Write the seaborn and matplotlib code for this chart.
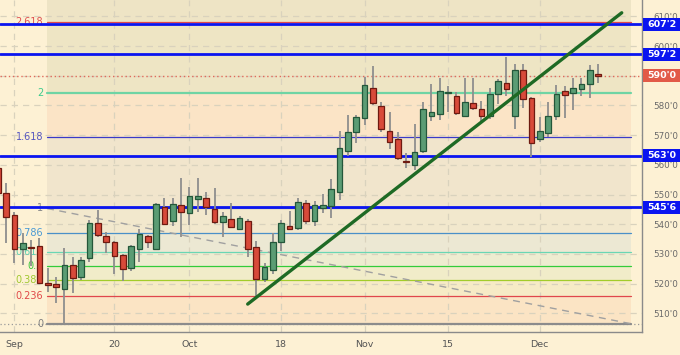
import numpy as np
import pandas as pd
import matplotlib
matplotlib.use('Agg')
import matplotlib.pyplot as plt
from matplotlib.patches import Rectangle
import seaborn as sns

# ---------------- data ----------------
# daily candles, index 0..72 (late Aug .. early Dec)
opens = [558.9, 550.5, 543.1, 531.7, 532.2, 532.7, 520.2, 519.9, 518.2, 526.3,
         522.2, 528.6, 540.4, 536.0, 534.0, 529.6, 525.3, 531.7, 536.0, 531.7,
         545.8, 541.1, 546.5, 543.8, 548.5, 548.8, 545.1, 540.7, 541.8, 538.4,
         541.1, 532.3, 521.5, 524.6, 534.0, 539.4, 538.7, 547.1, 541.1, 545.5,
         546.1, 550.8, 564.6, 571.1, 575.8, 585.9, 579.8, 571.4, 568.7, 561.0,
         559.9, 564.6, 576.4, 577.1, 584.2, 583.2, 576.4, 580.8, 578.8, 576.4,
         583.8, 587.5, 576.4, 591.9, 582.5, 568.7, 570.7, 576.4, 584.8, 584.2,
         585.5, 587.2, 590.6]
highs = [559.9, 553.9, 544.1, 537.0, 534.7, 535.4, 525.3, 522.2, 532.0, 529.0,
         529.0, 541.4, 544.8, 537.4, 534.3, 529.8, 533.0, 538.4, 536.2, 547.1,
         548.8, 548.8, 555.6, 552.5, 555.6, 550.8, 552.2, 544.1, 547.1, 542.8,
         541.8, 534.3, 526.9, 537.0, 541.4, 544.4, 548.8, 548.1, 547.8, 550.2,
         555.2, 571.4, 576.8, 576.8, 589.6, 593.3, 581.1, 577.8, 571.1, 564.0,
         573.7, 581.1, 587.2, 589.2, 586.5, 584.5, 589.2, 589.2, 581.5, 585.9,
         588.9, 596.3, 593.9, 593.9, 582.8, 576.1, 581.1, 586.9, 586.5, 589.2,
         589.2, 593.6, 593.9]
lows = [549.8, 533.7, 526.9, 526.3, 525.9, 520.0, 517.2, 513.5, 506.7, 516.8,
        521.2, 527.3, 535.7, 530.3, 523.2, 520.9, 524.2, 527.3, 532.0, 531.3,
        539.8, 539.4, 535.7, 539.7, 544.1, 543.1, 540.1, 535.7, 539.0, 538.0,
        529.0, 515.5, 520.5, 523.2, 531.0, 538.0, 538.0, 540.1, 539.4, 543.8,
        542.1, 548.1, 563.0, 567.3, 573.4, 580.1, 571.1, 565.3, 561.6, 558.9,
        558.3, 564.0, 574.7, 575.1, 577.8, 576.8, 576.1, 578.5, 574.1, 575.4,
        580.5, 583.2, 572.1, 579.1, 562.6, 567.7, 569.4, 575.1, 575.8, 578.5,
        583.2, 582.5, 587.5]
closes = [550.5, 542.4, 531.7, 533.7, 532.0, 520.2, 519.5, 518.9, 526.3, 521.9,
          527.9, 540.4, 536.4, 534.0, 529.3, 524.9, 532.7, 536.7, 534.0, 546.8,
          540.1, 546.8, 544.1, 549.5, 549.5, 545.8, 540.7, 542.8, 539.1, 542.1,
          531.7, 521.5, 525.6, 534.0, 540.4, 538.4, 547.5, 541.1, 546.5, 546.5,
          551.9, 565.7, 571.1, 576.1, 586.9, 580.8, 572.1, 567.7, 562.3, 560.9,
          564.3, 578.8, 577.8, 584.8, 584.2, 577.4, 581.1, 579.1, 576.4, 583.8,
          588.2, 585.5, 591.9, 582.2, 567.3, 571.4, 576.4, 583.8, 583.5, 585.9,
          587.2, 591.9, 590.0]

date_pos = [2, 14, 23, 34, 44, 54, 65]
date_labels = ['Sep', '20', 'Oct', '18', 'Nov', '15', 'Dec']

# price scale (590 label is hidden behind the last-price tag)
price_ticks = [510, 520, 530, 540, 550, 560, 570, 580, 600, 610]
grid_prices = [510, 520, 530, 540, 550, 560, 570, 580, 590, 600, 610]

# fibonacci tool
fib_low, fib_high = 506.5, 545.3
fib_x = [5.92, 75.9]
fib_levels = [0, 0.236, 0.382, 0.5, 0.618, 0.786, 1, 1.618, 2, 2.618]
fib_line_colors = ['#8c8c8c', '#e0474c', '#a2cc2a', '#33cc3a', '#6ad6b4',
                   '#4a90c8', '#8c8c8c', '#3a3ac8', '#6fd4a4', '#e0474c']
fib_text_colors = ['#808080', '#e04848', '#a0c830', '#3cc83c', '#5cd0b0',
                   '#4a9ad4', '#8a8a8a', '#5656c0', '#3ccc8c', '#e05050']
fib_zone_colors = ['#fbe4c4', '#f6ebc6', '#f1ecc9', '#eeecd0', '#ece8d3',
                   '#f2e8cd', '#f1e5cc', '#fbe4c6', '#eee5c4', '#eee4c5']

# manual horizontal levels (blue) and last price
hlines = [607.25, 597.25, 563.0, 545.75]
hline_labels = ["607'2", "597'2", "563'0", "545'6"]
last_price = 590.0
last_label = "590'0"

# trend line drawn on chart
trend_x = [29.98, 74.83]
trend_y = [513.1, 611.2]

# ---------------- style ----------------
sns.set_theme(style='white')
plt.rcParams['font.family'] = ['DejaVu Sans']
BG = '#fdf1d4'
BLUE = '#0a14f0'

fig = plt.figure(figsize=(6.8, 3.55), dpi=100, facecolor=BG)
ax = fig.add_axes([0, 23 / 355, 642 / 680, 332 / 355])
ax.set_facecolor(BG)
ax.set_xlim(0.28, 77.26)
ax.set_ylim(503.7, 615.5)

# fib zones
fib_prices = [fib_low + l * (fib_high - fib_low) for l in fib_levels]
zone_edges = fib_prices + [fib_low + 3.618 * (fib_high - fib_low)]
for k, col in enumerate(fib_zone_colors):
    ax.fill_between(fib_x, zone_edges[k], zone_edges[k + 1], color=col, lw=0, zorder=0)

# grid
for p in grid_prices:
    ax.axhline(p, color='#d9d2bd', lw=0.9, ls=(0, (5, 4)), zorder=0.5)
for d in date_pos:
    ax.axvline(d, color='#d9d2bd', lw=0.9, ls=(0, (5, 4)), zorder=0.5)

# fib lines and labels
ax.axhline(fib_low, color='#9a9a9a', lw=0.9, ls=(0, (1, 2)), zorder=0.8)
for l, p, lc, tc in zip(fib_levels, fib_prices, fib_line_colors, fib_text_colors):
    lw = 1.6 if l in (0, 2) else 0.9
    ax.plot(fib_x, [p, p], color=lc, lw=lw, zorder=1)
    ax.text(5.44, p, '{:g}'.format(l), color=tc, fontsize=7, ha='right', va='center', zorder=1.5)

# fib diagonal
ax.plot(fib_x, [fib_high, fib_low], color='#a0a0a0', lw=1.0, ls=(0, (5, 4)), zorder=2)

# blue horizontal levels
for p in hlines:
    ax.axhline(p, color=BLUE, lw=2.0, zorder=2.5)
ax.axhline(last_price, color='#e06a5a', lw=1.0, ls=(0, (1, 2)), zorder=2.5)

# candles
df = pd.DataFrame({'o': opens, 'h': highs, 'l': lows, 'c': closes})
df['i'] = np.arange(len(df))
up = df['c'] >= df['o']
ax.vlines(df['i'], df['l'], df['h'], color='#8e8e8e', lw=1.3, zorder=3)
body_lo = np.minimum(df['o'], df['c'])
body_h = np.maximum(np.abs(df['c'] - df['o']), 0.25)
ax.bar(df['i'][up], body_h[up], bottom=body_lo[up], width=0.68,
       color='#5b9c74', edgecolor='#24573a', lw=0.9, zorder=3.2)
ax.bar(df['i'][~up], body_h[~up], bottom=body_lo[~up], width=0.68,
       color='#d84a3a', edgecolor='#6e1a10', lw=0.9, zorder=3.2)

# trend line
sns.lineplot(x=trend_x, y=trend_y, ax=ax, color='#1e6a24', lw=2.4, zorder=5)

# axes cosmetics
for s in ['top', 'left']:
    ax.spines[s].set_visible(False)
for s in ['right', 'bottom']:
    ax.spines[s].set_color('#8a8a8a')
    ax.spines[s].set_linewidth(1.0)
ax.yaxis.tick_right()
ax.set_yticks(price_ticks)
ax.set_yticklabels([f"{p}'0" for p in price_ticks])
ax.set_xticks(date_pos)
ax.set_xticklabels(date_labels)
ax.tick_params(axis='y', length=0, pad=8, labelsize=6.3, labelcolor='#6a6a6a')
ax.tick_params(axis='x', length=0, pad=6, labelsize=6.8, labelcolor='#555555')
ax.set_xlabel('')
ax.set_ylabel('')

# price tags on right axis
ytr = ax.get_yaxis_transform()
tag_w = 38 / 642
tag_h = 2.2


def price_tag(p, label, color):
    ax.add_patch(Rectangle((1.0015, p - tag_h), tag_w, 2 * tag_h, transform=ytr,
                           facecolor=color, edgecolor='none', clip_on=False, zorder=9))
    ax.text(1.0015 + tag_w / 2, p, label, transform=ytr, color='white',
            fontsize=6.8, fontweight='bold', ha='center', va='center',
            clip_on=False, zorder=10)


for p, t in zip(hlines, hline_labels):
    price_tag(p, t, BLUE)
price_tag(last_price, last_label, '#e25a48')

fig.savefig('out.png', dpi=100, facecolor=BG)
